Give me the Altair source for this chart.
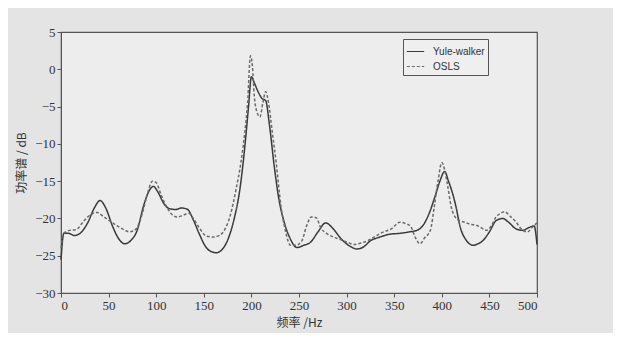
import altair as alt
import pandas as pd

# Yule-walker (solid) spectrum estimate
freq_yw = [0, 3, 8, 14, 20, 28, 35, 41, 47, 54, 61, 67, 73, 80, 87, 93, 97, 102, 108, 114,
           120, 127, 133, 139, 145, 151, 157, 163, 169, 176, 182, 188, 193, 197, 200, 203, 207, 211, 215, 219,
           224, 229, 234, 240, 248, 255, 262, 270, 278, 286, 294, 302, 311, 318, 325, 335, 346, 356, 366, 374,
           381, 388, 393, 398, 403, 407, 411, 415, 419, 425, 433, 438, 443, 450, 457, 464, 470, 478, 485, 492,
           497, 500]
psd_yw = [-25.5, -22.0, -22.0, -22.3, -22.0, -20.6, -18.6, -17.6, -18.6, -21.0,
          -22.8, -23.4, -23.0, -21.6, -18.2, -16.2, -15.7, -16.5, -18.0, -18.7,
          -18.8, -18.6, -18.8, -20.2, -22.0, -23.6, -24.4, -24.6, -24.2, -22.6,
          -20.0, -16.0, -10.5, -5.0, -1.0, -1.8, -3.0, -3.9, -4.2, -7.5,
          -13.0, -17.5, -20.3, -22.5, -23.9, -23.6, -23.2, -21.8, -20.6, -21.4,
          -22.7, -23.6, -24.1, -23.8, -23.0, -22.5, -22.1, -22.0, -21.8, -21.6,
          -20.8, -18.9, -17.0, -15.0, -13.7, -15.0, -16.5, -18.5, -21.0, -22.8,
          -23.6, -23.4, -23.0, -21.8, -20.3, -20.0, -20.5, -21.4, -21.6, -21.2,
          -21.0, -23.5]

# OSLS (dashed) spectrum estimate
freq_os = [0, 3, 9, 16, 23, 30, 38, 45, 52, 59, 66, 72, 79, 85, 91, 96, 100, 105, 110, 116,
           122, 128, 134, 140, 146, 153, 160, 166, 172, 178, 184, 189, 193, 196, 199, 201, 203, 206, 209, 212,
           215, 218, 222, 226, 231, 236, 241, 247, 253, 258, 263, 268, 273, 279, 286, 293, 301, 308, 315, 322,
           330, 339, 347, 356, 362, 367, 372, 377, 382, 388, 392, 396, 400, 403, 406, 410, 414, 419, 424, 430,
           436, 442, 447, 452, 457, 462, 466, 471, 478, 485, 490, 495, 500]
psd_os = [-24.0, -22.0, -21.6, -21.5, -20.5, -19.6, -19.2, -19.8, -20.4, -21.0,
          -21.5, -21.8, -21.4, -19.5, -16.6, -15.0, -15.2, -16.8, -18.2, -19.4,
          -19.8, -19.6, -19.3, -20.2, -21.4, -22.4, -22.5, -22.3, -21.5, -19.5,
          -16.0, -12.5, -8.5, -4.5, 1.8, 0.5, -3.5, -5.8, -6.4, -4.5,
          -3.0, -4.5, -8.5, -12.5, -18.3, -21.8, -23.6, -23.6, -23.0, -21.0,
          -19.8, -19.9, -21.3, -22.0, -22.5, -22.8, -23.2, -23.5, -23.3, -23.0,
          -22.4, -21.8, -21.4, -20.5, -20.7, -21.0, -22.5, -23.4, -22.6, -21.6,
          -18.5, -15.0, -12.5, -13.5, -15.5, -18.5, -19.8, -20.3, -20.5, -20.8,
          -20.9, -21.3, -21.6, -21.0, -19.8, -19.3, -19.1, -19.6, -20.5, -21.6,
          -21.8, -21.2, -20.6]

series_names = ["Yule-walker", "OSLS"]
x_ticks = [0, 50, 100, 150, 200, 250, 300, 350, 400, 450, 500]
y_ticks = [-30, -25, -20, -15, -10, -5, 0, 5]

df = pd.concat([
    pd.DataFrame({"freq": freq_yw, "psd": psd_yw, "method": series_names[0]}),
    pd.DataFrame({"freq": freq_os, "psd": psd_os, "method": series_names[1]}),
])

chart = alt.Chart(df).mark_line(strokeWidth=1.5, interpolate="monotone").encode(
    x=alt.X("freq:Q", scale=alt.Scale(domain=[0, 500], nice=False),
            axis=alt.Axis(values=x_ticks, title="频率 /Hz", titlePadding=5, labelPadding=2)),
    y=alt.Y("psd:Q", scale=alt.Scale(domain=[-30, 5], nice=False),
            axis=alt.Axis(values=y_ticks, title="功率谱 / dB", titlePadding=6)),
    color=alt.Color("method:N", sort=series_names,
                    scale=alt.Scale(domain=series_names, range=["#3a3a3a", "#6a6a6a"]),
                    legend=alt.Legend(title=None, orient="none", legendX=342, legendY=7,
                                      symbolType="stroke", symbolSize=300, symbolStrokeWidth=1.2,
                                      labelFont="Liberation Sans", labelFontSize=10,
                                      strokeColor="#555", fillColor="#efefef", padding=3,
                                      rowPadding=0, labelColor="#333", labelOffset=8,
                                      labelLimit=200)),
    strokeDash=alt.StrokeDash("method:N", sort=series_names,
                              scale=alt.Scale(domain=series_names, range=[[1, 0], [3, 2]]),
                              legend=None),
    order=alt.Order("freq:Q"),
).properties(
    width=476, height=261,
    autosize=alt.AutoSizeParams(type="none"),
    padding={"left": 53, "top": 24, "right": 76, "bottom": 40},
    background="#e4e4e4",
).configure_view(
    fill="#ededed", stroke="#555", strokeWidth=1.2
).configure_axis(
    grid=False, labelFont="Liberation Serif", labelFontSize=13, labelColor="#333",
    domainColor="#555", tickColor="#555", tickSize=4,
    titleFont="Noto Sans CJK SC", titleFontSize=12, titleFontWeight="normal", titleColor="#333",
)

chart.save("out.html", embed_options={"renderer": "svg", "actions": False})
